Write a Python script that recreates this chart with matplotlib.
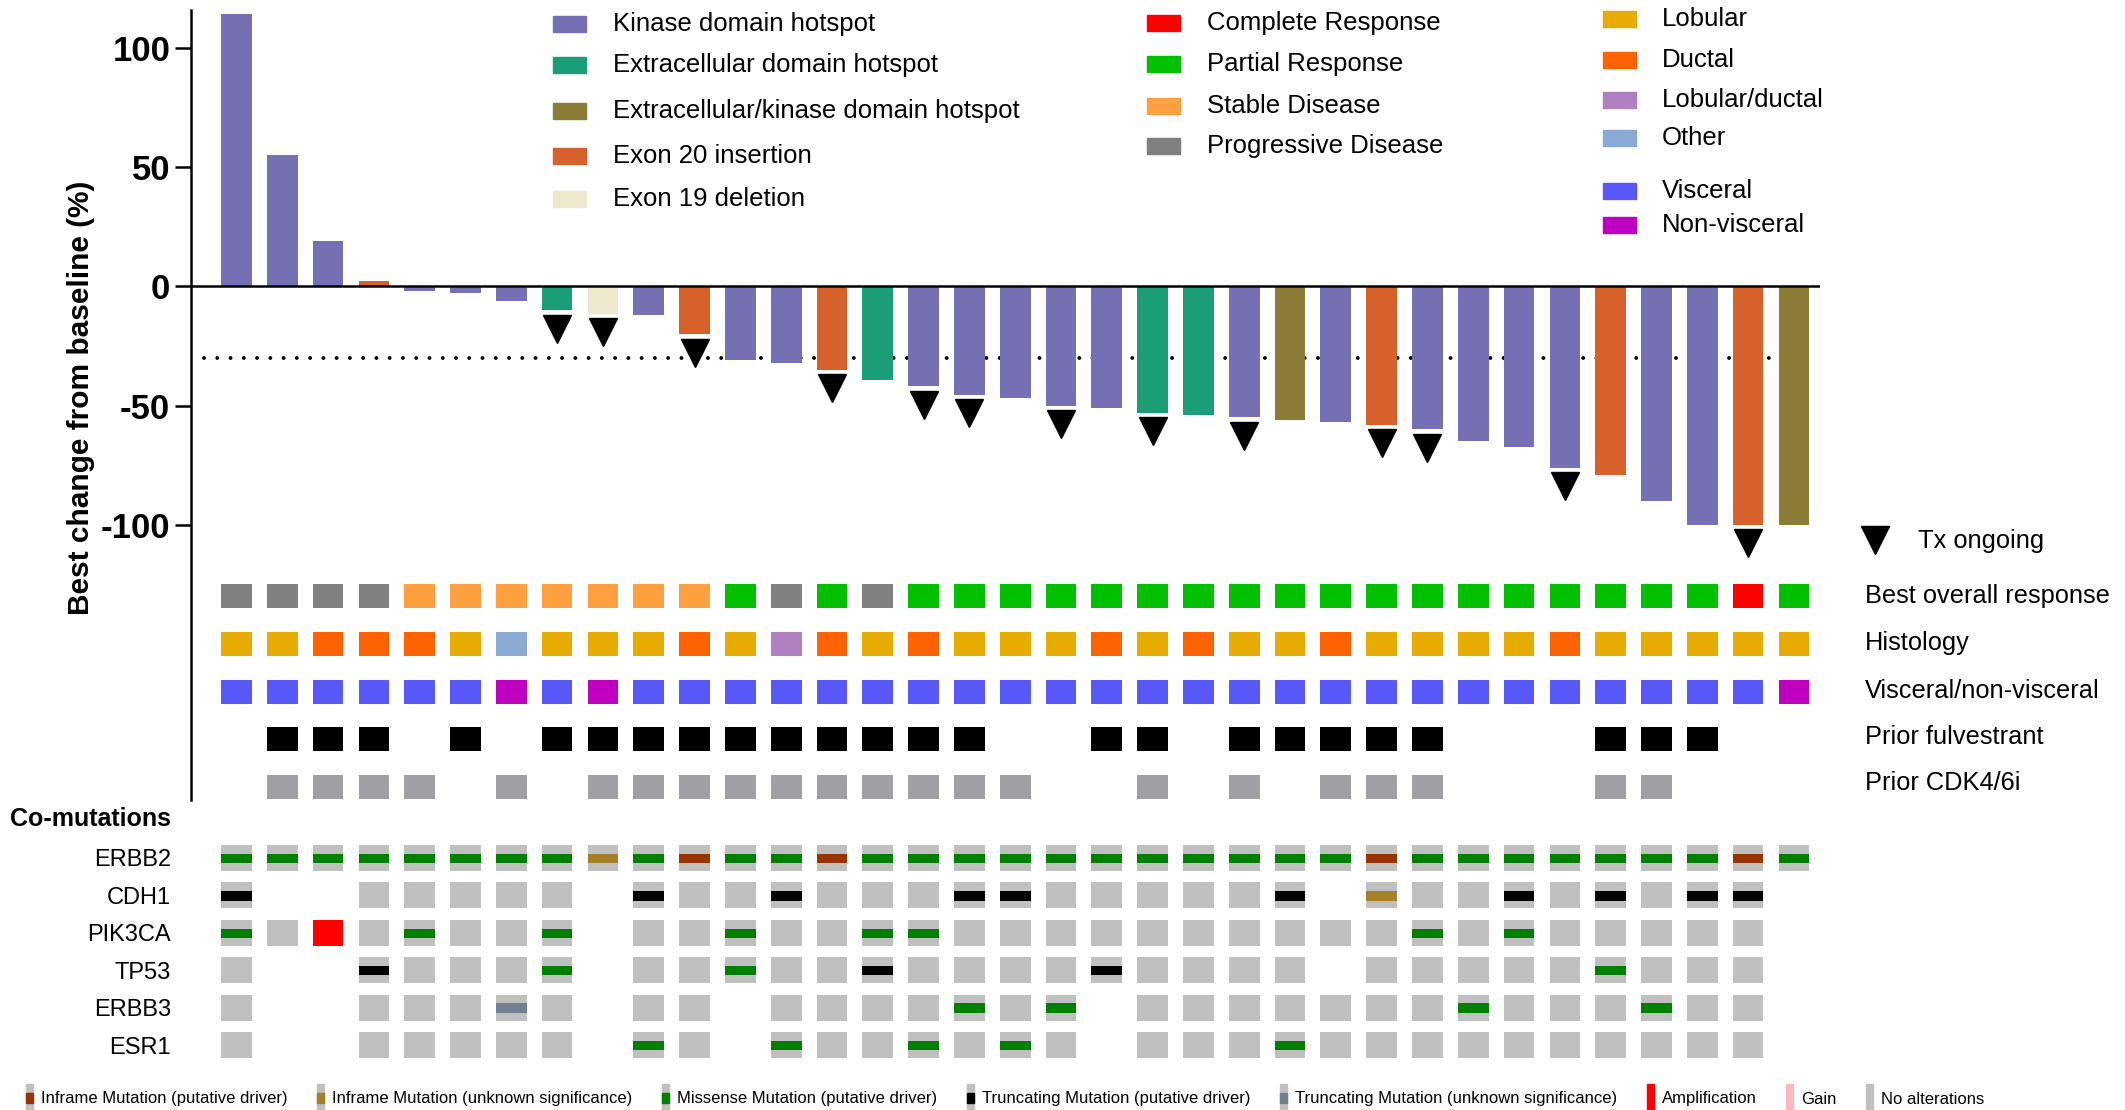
import numpy as np
import matplotlib
matplotlib.use("Agg")
import matplotlib.pyplot as plt
from matplotlib.patches import Rectangle

plt.rcParams.update({
    "font.family": ["Liberation Sans", "DejaVu Sans"],
    "figure.facecolor": "white",
    "savefig.facecolor": "white",
})

W, H = 2125, 1110

# ---- waterfall: best change from baseline (%) per patient ----
change = [114, 55, 19, 2, -2, -3, -6, -10, -11.5, -12, -20, -31, -32, -35, -39.5,
          -42, -45.5, -47, -50, -51, -53, -54, -55, -56, -57, -58, -60, -65, -67.5,
          -76, -79, -90, -100, -100, -100]
hotspot = ["K", "K", "K", "E20", "K", "K", "K", "EC", "E19", "K", "E20", "K", "K", "E20",
           "EC", "K", "K", "K", "K", "K", "EC", "EC", "K", "ECK", "K", "E20", "K", "K",
           "K", "K", "E20", "K", "K", "E20", "ECK"]
tx_ongoing = [8, 9, 11, 14, 16, 17, 19, 21, 23, 26, 27, 30, 34]   # patient numbers

best_response = ["PD"] * 4 + ["SD"] * 7 + ["PR", "PD", "PR", "PD"] + ["PR"] * 18 + ["CR", "PR"]
histology = ["L", "L", "D", "D", "D", "L", "O", "L", "L", "L", "D", "L", "LD", "D", "L",
             "D", "L", "L", "L", "D", "L", "D", "L", "L", "D", "L", "L", "L", "L", "D",
             "L", "L", "L", "L", "L"]
visceral = ["V"] * 6 + ["NV", "V", "NV"] + ["V"] * 25 + ["NV"]
prior_fulvestrant = [0, 1, 1, 1, 0, 1, 0, 1, 1, 1, 1, 1, 1, 1, 1, 1, 1, 0, 0, 1, 1, 0,
                     1, 1, 1, 1, 1, 0, 0, 0, 1, 1, 1, 0, 0]
prior_cdk = [0, 1, 1, 1, 1, 0, 1, 0, 1, 1, 1, 1, 1, 1, 1, 1, 1, 1, 0, 0, 1, 0, 1, 0,
             1, 1, 1, 0, 0, 0, 1, 1, 0, 0, 0]

# co-mutations: . = not profiled, n = no alteration, m = missense driver,
# t = truncating driver, u = truncating unknown, i = inframe driver,
# j = inframe unknown, a = amplification
genes = ["ERBB2", "CDH1", "PIK3CA", "TP53", "ERBB3", "ESR1"]
comut = {
    "ERBB2":  "mmmmmmmmjmimmimmmmmmmmmmmimmmmmmmim",
    "CDH1":   "t..nnnnn.tnntnnnttnnnnnt.jnntntntt.",
    "PIK3CA": "mnanmnnm.nnmnnmmnnnnnnnnnnmnmnnnnn.",
    "TP53":   "n..tnnnm.nnmnntnnnntnnnn.nnnnnmnnn.",
    "ERBB3":  "n..nnnun.nn.nnnnmnm.nnnnnnnmnnnmnn.",
    "ESR1":   "n..nnnnn.mn.mnnmnmn.nnnmnnnnnnnnnn.",
}

# ---- legend labels / colours ----
hotspot_labels = ["Kinase domain hotspot", "Extracellular domain hotspot",
                  "Extracellular/kinase domain hotspot", "Exon 20 insertion", "Exon 19 deletion"]
hotspot_keys = ["K", "EC", "ECK", "E20", "E19"]
hotspot_colors = {"K": "#7570B3", "EC": "#1B9E77", "ECK": "#8B7D38",
                  "E20": "#D6612A", "E19": "#EEE8CD"}

response_labels = ["Complete Response", "Partial Response", "Stable Disease", "Progressive Disease"]
response_keys = ["CR", "PR", "SD", "PD"]
response_colors = {"CR": "#FF0000", "PR": "#00C000", "SD": "#FFA040", "PD": "#808080"}

histology_labels = ["Lobular", "Ductal", "Lobular/ductal", "Other"]
histology_keys = ["L", "D", "LD", "O"]
histology_colors = {"L": "#E6AC00", "D": "#FF6200", "LD": "#B07FC0", "O": "#8AAAD4"}

visceral_labels = ["Visceral", "Non-visceral"]
visceral_keys = ["V", "NV"]
visceral_colors = {"V": "#5858F8", "NV": "#C000C0"}

track_labels = ["Best overall response", "Histology", "Visceral/non-visceral",
                "Prior fulvestrant", "Prior CDK4/6i"]
track_y = [-130, -150, -170, -190, -210]

mut_labels = ["Inframe Mutation (putative driver)", "Inframe Mutation (unknown significance)",
              "Missense Mutation (putative driver)", "Truncating Mutation (putative driver)",
              "Truncating Mutation (unknown significance)", "Amplification", "Gain",
              "No alterations"]
mut_keys = ["i", "j", "m", "t", "u", "a", "g", "n"]
mut_colors = {"i": "#993300", "j": "#A68029", "m": "#008000", "t": "#000000",
              "u": "#708090", "a": "#FF0000", "g": "#FFB6C1", "n": "#C0C0C0"}

fig = plt.figure(figsize=(W / 100, H / 100), dpi=100)


def px_axes(x0, y0, x1, y1):
    return fig.add_axes([x0 / W, 1 - y1 / H, (x1 - x0) / W, (y1 - y0) / H])


XLIM = (-0.993, 34.57)
BW = 0.67


def plot_waterfall():
    ax = px_axes(191, 9.6, 1820, 800)
    x = np.arange(len(change))
    vals = np.array(change)
    ax.bar(x, vals, width=BW, color=[hotspot_colors[h] for h in hotspot], zorder=2)
    ax.axhline(0, color="black", lw=1.8, zorder=3)
    ax.hlines(-30, -0.7, 33.7, colors="black", linestyles=(0, (0.01, 3.4)), lw=2.8,
              capstyle="round", zorder=1)

    idx = np.array(tx_ongoing) - 1
    ax.plot(x[idx], vals[idx] - 7.8, "v", color="black", ms=20, zorder=4)

    # annotation tracks
    tracks = [
        ([response_colors[r] for r in best_response], [True] * len(x)),
        ([histology_colors[h] for h in histology], [True] * len(x)),
        ([visceral_colors[v] for v in visceral], [True] * len(x)),
        (["black"] * len(x), [bool(f) for f in prior_fulvestrant]),
        (["#A0A0A4"] * len(x), [bool(c) for c in prior_cdk]),
    ]
    for (cols, mask), y in zip(tracks, track_y):
        mask = np.array(mask)
        ax.bar(x[mask], 10, bottom=y - 5, width=BW,
               color=np.array(cols, dtype=object)[mask].tolist())

    ax.set_xlim(*XLIM)
    ax.set_ylim(-215.4, 116)
    ax.set_xticks([])
    ax.set_yticks([100, 50, 0, -50, -100])
    ax.set_yticklabels(["100", "50", "0", "-50", "-100"], fontsize=25, fontweight="bold")
    ax.tick_params(axis="y", length=11.5, width=1.8, pad=3.5)
    for s in ("top", "right", "bottom"):
        ax.spines[s].set_visible(False)
    ax.spines["left"].set_linewidth(1.8)
    ax.set_ylabel("Best change from baseline (%)", fontsize=21.5, fontweight="bold")
    ax.yaxis.set_label_coords(-0.059, 0.509)
    ax.patch.set_alpha(0)


def plot_comutations():
    axm = px_axes(191, 839.3, 1820, 1063.7)
    x = np.arange(len(change))
    for gi, g in enumerate(genes):
        codes = np.array(list(comut[g]))
        cell = (codes != ".") & (codes != "a")
        axm.bar(x[cell], 0.7, bottom=gi - 0.35, width=BW, color=mut_colors["n"])
        amp = codes == "a"
        axm.bar(x[amp], 0.7, bottom=gi - 0.35, width=BW, color=mut_colors["a"])
        for k in ("i", "j", "m", "t", "u"):
            sel = codes == k
            if sel.any():
                axm.bar(x[sel], 0.25, bottom=gi - 0.11, width=BW, color=mut_colors[k])
    axm.set_xlim(*XLIM)
    axm.set_ylim(5.5, -0.5)
    axm.set_xticks([])
    axm.set_yticks(range(len(genes)))
    axm.set_yticklabels(genes, fontsize=17)
    axm.tick_params(axis="y", length=0, pad=14.4)
    for s in axm.spines.values():
        s.set_visible(False)
    axm.patch.set_alpha(0)


def plot_legends():
    ov = fig.add_axes([0, 0, 1, 1])
    ov.set_xlim(0, W)
    ov.set_ylim(H, 0)
    ov.axis("off")
    ov.patch.set_alpha(0)

    def column(px, tx, ys, labels, colors):
        for y, lab, c in zip(ys, labels, colors):
            ov.add_patch(Rectangle((px, y - 8), 33, 16, color=c))
            ov.text(tx, y, lab, fontsize=18.5, va="center", ha="left")

    column(553, 613, [24, 65, 111, 156, 199], hotspot_labels,
           [hotspot_colors[k] for k in hotspot_keys])
    column(1147, 1207, [23, 64, 106, 146], response_labels,
           [response_colors[k] for k in response_keys])
    column(1603, 1662, [19, 60, 100, 138], histology_labels,
           [histology_colors[k] for k in histology_keys])
    column(1603, 1662, [191, 225], visceral_labels,
           [visceral_colors[k] for k in visceral_keys])

    ov.plot([1875], [540], "v", color="black", ms=20)
    ov.text(1918, 541, "Tx ongoing", fontsize=18.3, va="center")

    for y, lab in zip([596, 643, 691, 737, 783], track_labels):
        ov.text(1865, y, lab, fontsize=18.3, va="center")

    ov.text(10, 819, "Co-mutations", fontsize=18, fontweight="bold", va="center")

    # oncoprint legend strip
    xs = [26, 317, 662, 967, 1280, 1647, 1786, 1866]
    for x0, k, lab in zip(xs, mut_keys, mut_labels):
        if k in ("a", "g", "n"):
            ov.add_patch(Rectangle((x0, 1084), 7, 30, color=mut_colors[k]))
        else:
            ov.add_patch(Rectangle((x0, 1084), 7, 30, color=mut_colors["n"]))
            ov.add_patch(Rectangle((x0, 1093), 7, 10, color=mut_colors[k]))
        ov.text(x0 + 15, 1099, lab, fontsize=12, va="center")


def main():
    plot_waterfall()
    plot_comutations()
    plot_legends()
    fig.savefig("out.png", dpi=100)


if __name__ == "__main__":
    main()
